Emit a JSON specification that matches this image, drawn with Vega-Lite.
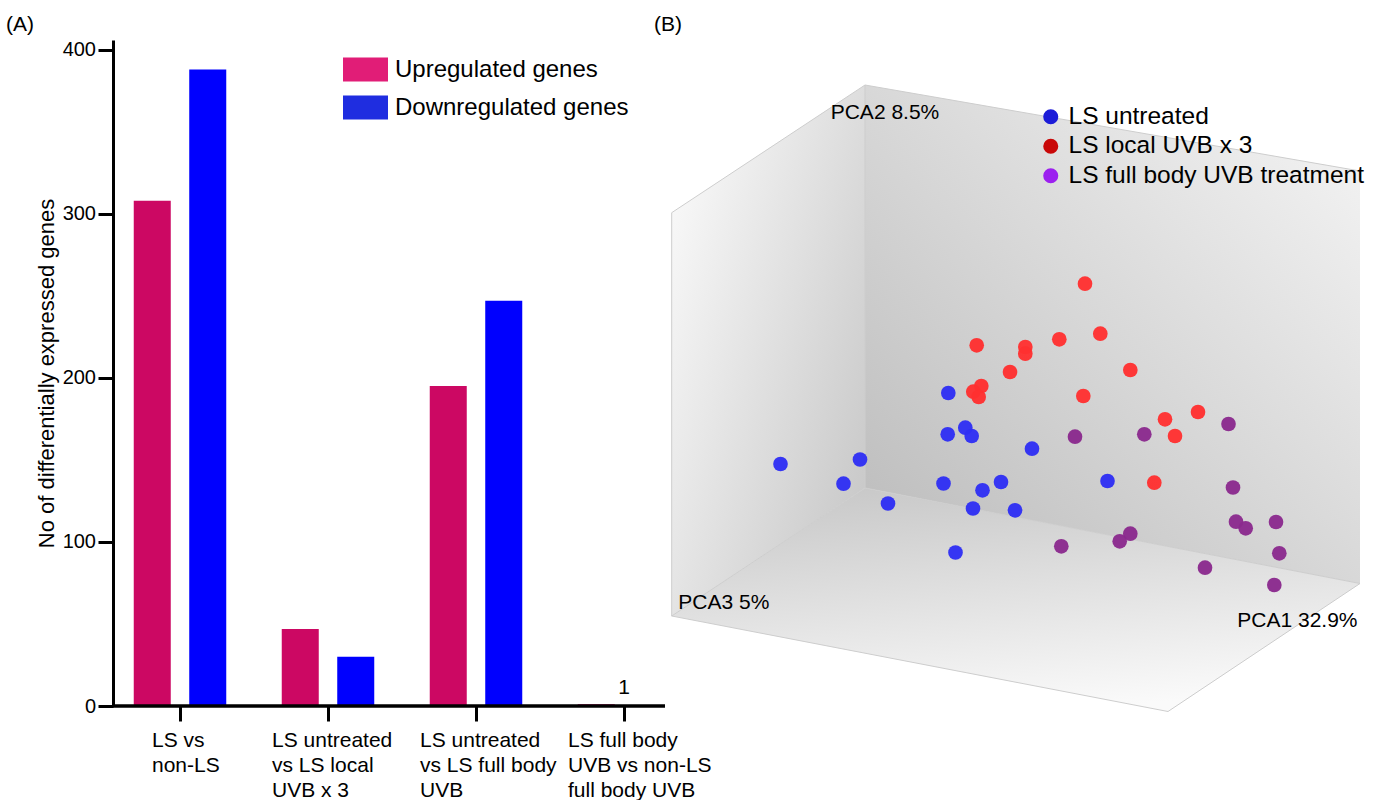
{
  "$schema": "https://vega.github.io/schema/vega-lite/v6.json",
  "padding": {"left": 6, "top": 13, "right": 0, "bottom": 0},
  "bounds": "flush",
  "spacing": 2,
  "config": {
    "font": "Liberation Sans",
    "view": {"stroke": null},
    "axis": {"labelFont": "Liberation Sans", "titleFont": "Liberation Sans"},
    "legend": {"labelFont": "Liberation Sans"},
    "title": {"font": "Liberation Sans", "fontSize": 21, "fontWeight": "normal", "color": "black"},
    "text": {"font": "Liberation Sans", "color": "black"}
  },
  "datasets": {
    "bars": [
      {"comparison": "LS vs|non-LS", "regulation": "Upregulated genes", "count": 308},
      {"comparison": "LS vs|non-LS", "regulation": "Downregulated genes", "count": 388},
      {"comparison": "LS untreated|vs LS local|UVB x 3", "regulation": "Upregulated genes", "count": 47},
      {"comparison": "LS untreated|vs LS local|UVB x 3", "regulation": "Downregulated genes", "count": 30},
      {"comparison": "LS untreated|vs LS full body|UVB", "regulation": "Upregulated genes", "count": 195},
      {"comparison": "LS untreated|vs LS full body|UVB", "regulation": "Downregulated genes", "count": 247},
      {"comparison": "LS full body|UVB vs non-LS|full body UVB", "regulation": "Upregulated genes", "count": 1},
      {"comparison": "LS full body|UVB vs non-LS|full body UVB", "regulation": "Downregulated genes", "count": 0}
    ],
    "faces": [
      {"face": "left", "sx": 671.7, "top": 211.7, "bottom": 615},
      {"face": "left", "sx": 865, "top": 84, "bottom": 487},
      {"face": "back", "sx": 865, "top": 84, "bottom": 487},
      {"face": "back", "sx": 1360, "top": 170, "bottom": 582.5},
      {"face": "floor", "sx": 671.7, "top": 615, "bottom": 615},
      {"face": "floor", "sx": 865, "top": 487, "bottom": 652.2},
      {"face": "floor", "sx": 1168, "top": 545.5, "bottom": 710.5},
      {"face": "floor", "sx": 1360, "top": 582.5, "bottom": 582.5}
    ],
    "edges": [
      {"edge": "e1", "sx": 671.7, "sy": 211.7}, {"edge": "e1", "sx": 865, "sy": 84},
      {"edge": "e2", "sx": 865, "sy": 84}, {"edge": "e2", "sx": 1360, "sy": 170},
      {"edge": "e3", "sx": 865, "sy": 84}, {"edge": "e3", "sx": 865, "sy": 487},
      {"edge": "e4", "sx": 671.7, "sy": 615}, {"edge": "e4", "sx": 865, "sy": 487},
      {"edge": "e5", "sx": 865, "sy": 487}, {"edge": "e5", "sx": 1360, "sy": 582.5},
      {"edge": "e6", "sx": 671.7, "sy": 615}, {"edge": "e6", "sx": 1168, "sy": 710.5},
      {"edge": "e7", "sx": 1168, "sy": 710.5}, {"edge": "e7", "sx": 1360, "sy": 582.5},
      {"edge": "e8", "sx": 671.7, "sy": 211.7}, {"edge": "e8", "sx": 671.7, "sy": 615}
    ],
    "pca": [
      {"group": "LS untreated", "sx": 780.5, "sy": 463},
      {"group": "LS untreated", "sx": 860, "sy": 458.5},
      {"group": "LS untreated", "sx": 843.5, "sy": 482.7},
      {"group": "LS untreated", "sx": 888, "sy": 502.5},
      {"group": "LS untreated", "sx": 948.3, "sy": 392},
      {"group": "LS untreated", "sx": 947.7, "sy": 433.3},
      {"group": "LS untreated", "sx": 965.3, "sy": 426.7},
      {"group": "LS untreated", "sx": 971.7, "sy": 435},
      {"group": "LS untreated", "sx": 1032, "sy": 447.7},
      {"group": "LS untreated", "sx": 943.5, "sy": 482.5},
      {"group": "LS untreated", "sx": 982.5, "sy": 489.3},
      {"group": "LS untreated", "sx": 1001, "sy": 481},
      {"group": "LS untreated", "sx": 973, "sy": 507.5},
      {"group": "LS untreated", "sx": 1015, "sy": 509.3},
      {"group": "LS untreated", "sx": 955.5, "sy": 551.5},
      {"group": "LS untreated", "sx": 1107.5, "sy": 480},
      {"group": "LS local UVB x 3", "sx": 1085, "sy": 282.7},
      {"group": "LS local UVB x 3", "sx": 976.7, "sy": 344.3},
      {"group": "LS local UVB x 3", "sx": 1025.3, "sy": 346},
      {"group": "LS local UVB x 3", "sx": 1025.3, "sy": 352.7},
      {"group": "LS local UVB x 3", "sx": 1059.3, "sy": 338.3},
      {"group": "LS local UVB x 3", "sx": 1100.3, "sy": 332.7},
      {"group": "LS local UVB x 3", "sx": 1010, "sy": 371},
      {"group": "LS local UVB x 3", "sx": 981.3, "sy": 385},
      {"group": "LS local UVB x 3", "sx": 973.3, "sy": 390.7},
      {"group": "LS local UVB x 3", "sx": 978.7, "sy": 396},
      {"group": "LS local UVB x 3", "sx": 1083.3, "sy": 395},
      {"group": "LS local UVB x 3", "sx": 1130.3, "sy": 369},
      {"group": "LS local UVB x 3", "sx": 1165, "sy": 418.3},
      {"group": "LS local UVB x 3", "sx": 1198, "sy": 411},
      {"group": "LS local UVB x 3", "sx": 1175, "sy": 435},
      {"group": "LS local UVB x 3", "sx": 1154.3, "sy": 481.7},
      {"group": "LS full body UVB treatment", "sx": 1075, "sy": 435.7},
      {"group": "LS full body UVB treatment", "sx": 1144.3, "sy": 433.3},
      {"group": "LS full body UVB treatment", "sx": 1228.5, "sy": 423},
      {"group": "LS full body UVB treatment", "sx": 1233, "sy": 486.5},
      {"group": "LS full body UVB treatment", "sx": 1236, "sy": 520.7},
      {"group": "LS full body UVB treatment", "sx": 1245.7, "sy": 527.3},
      {"group": "LS full body UVB treatment", "sx": 1276, "sy": 521},
      {"group": "LS full body UVB treatment", "sx": 1061.3, "sy": 545.3},
      {"group": "LS full body UVB treatment", "sx": 1130.3, "sy": 532.7},
      {"group": "LS full body UVB treatment", "sx": 1119.7, "sy": 540.3},
      {"group": "LS full body UVB treatment", "sx": 1205, "sy": 566.7},
      {"group": "LS full body UVB treatment", "sx": 1279.3, "sy": 552.3},
      {"group": "LS full body UVB treatment", "sx": 1274.3, "sy": 584}
    ],
    "axislabels": [
      {"label": "PCA2 8.5%", "sx": 830.7, "sy": 118.3},
      {"label": "PCA3 5%", "sx": 678.3, "sy": 608.3},
      {"label": "PCA1 32.9%", "sx": 1237.3, "sy": 626}
    ]
  },
  "hconcat": [
    {
      "width": 592,
      "height": 666,
      "title": {"text": "(A)", "anchor": "start", "frame": "group", "dx": -100, "offset": 5},
      "resolve": {"scale": {"color": "independent"}, "legend": {"color": "independent"}},
      "layer": [
        {
          "data": {"name": "bars"},
          "mark": {"type": "bar"},
          "encoding": {
            "x": {
              "field": "comparison", "type": "nominal", "sort": null,
              "scale": {"paddingInner": 0, "paddingOuter": 0},
              "axis": {
                "title": null, "labelAngle": 0, "labelExpr": "split(datum.label, '|')",
                "labelAlign": "left", "labelBaseline": "top", "labelFontSize": 21,
                "labelLineHeight": 25, "labelPadding": 8, "labelOverlap": false, "labelBound": false,
                "labelLimit": 0, "labelColor": "black",
                "labelOffset": {"condition": {"test": "datum.value === 'LS vs|non-LS'", "value": -28}, "value": -56},
                "tickSize": 15, "tickWidth": 3, "tickColor": "black", "domain": false
              }
            },
            "xOffset": {
              "field": "regulation", "type": "nominal",
              "sort": ["Upregulated genes", "Downregulated genes"],
              "scale": {"paddingInner": 0.333, "paddingOuter": 0.5}
            },
            "y": {
              "field": "count", "type": "quantitative",
              "scale": {"domain": [0, 406], "nice": false},
              "axis": {
                "title": "No of differentially expressed genes", "values": [0, 100, 200, 300, 400],
                "offset": -7, "grid": false, "domainWidth": 3, "domainColor": "black",
                "tickWidth": 3, "tickSize": 15, "tickColor": "black",
                "labelFontSize": 20, "labelPadding": 2.5, "labelColor": "black",
                "titleFontSize": 22, "titleFontWeight": "normal", "titlePadding": 4, "titleColor": "black"
              }
            },
            "color": {
              "field": "regulation", "type": "nominal",
              "scale": {"domain": ["Upregulated genes", "Downregulated genes"], "range": ["#cc0863", "#0000fe"]},
              "legend": null
            }
          }
        },
        {
          "data": {"name": "bars"},
          "transform": [{"filter": "false"}],
          "mark": {"type": "bar"},
          "encoding": {
            "x": {"field": "comparison", "type": "nominal", "sort": null},
            "y": {"field": "count", "type": "quantitative"},
            "color": {
              "field": "regulation", "type": "nominal",
              "scale": {"domain": ["Upregulated genes", "Downregulated genes"], "range": ["#e11d77", "#1f2de0"]},
              "legend": {
                "orient": "none", "legendX": 237, "legendY": 7, "title": null,
                "symbolType": "M-1,-0.5333H1V0.5333H-1Z", "symbolSize": 2025, "symbolStrokeWidth": 0, "symbolOpacity": 1,
                "labelFontSize": 24, "labelOffset": 7, "rowPadding": 3, "padding": 0,
                "labelLimit": 0, "labelColor": "black"
              }
            }
          }
        },
        {
          "data": {"name": "bars"},
          "transform": [{"filter": "datum.count == 1"}],
          "mark": {"type": "text", "fontSize": 21, "baseline": "alphabetic", "dy": -10},
          "encoding": {
            "x": {"field": "comparison", "type": "nominal", "sort": null},
            "y": {"field": "count", "type": "quantitative"},
            "text": {"field": "count", "type": "quantitative"}
          }
        },
        {
          "data": {"values": [{}]},
          "mark": {"type": "rule", "color": "black", "strokeWidth": 3.5},
          "encoding": {
            "x": {"datum": "LS vs|non-LS", "bandPosition": 0.047},
            "x2": {"datum": "LS full body|UVB vs non-LS|full body UVB", "bandPosition": 0.777},
            "y": {"datum": 0}
          }
        }
      ]
    },
    {
      "width": 679,
      "height": 666,
      "title": {"text": "(B)", "anchor": "start", "frame": "group", "dx": -46, "offset": 5},
      "resolve": {"scale": {"color": "independent"}, "legend": {"color": "independent"}},
      "layer": [
        {
          "data": {"name": "faces"},
          "transform": [{"filter": "datum.face == 'left'"}],
          "mark": {"type": "area", "orient": "vertical", "color": {"gradient": "linear", "x1": 0, "y1": 0.1, "x2": 1, "y2": 0.9, "stops": [{"offset": 0, "color": "#fbfbfb"}, {"offset": 1, "color": "#c6c6c6"}]}},
          "encoding": {
            "x": {"field": "sx", "type": "quantitative", "scale": {"domain": [700, 1379], "nice": false, "zero": false}, "axis": null},
            "y": {"field": "top", "type": "quantitative", "scale": {"domain": [39, 705], "reverse": true, "nice": false, "zero": false}, "axis": null},
            "y2": {"field": "bottom"}
          }
        },
        {
          "data": {"name": "faces"},
          "transform": [{"filter": "datum.face == 'back'"}],
          "mark": {"type": "area", "orient": "vertical", "color": {"gradient": "linear", "x1": 0, "y1": 1, "x2": 1, "y2": 0, "stops": [{"offset": 0, "color": "#bababa"}, {"offset": 1, "color": "#f6f6f6"}]}},
          "encoding": {
            "x": {"field": "sx", "type": "quantitative", "axis": null},
            "y": {"field": "top", "type": "quantitative", "axis": null},
            "y2": {"field": "bottom"}
          }
        },
        {
          "data": {"name": "faces"},
          "transform": [{"filter": "datum.face == 'floor'"}],
          "mark": {"type": "area", "orient": "vertical", "color": {"gradient": "linear", "x1": 0.28, "y1": 0, "x2": 0.55, "y2": 1, "stops": [{"offset": 0, "color": "#c9c9c9"}, {"offset": 1, "color": "#fafafa"}]}},
          "encoding": {
            "x": {"field": "sx", "type": "quantitative", "axis": null},
            "y": {"field": "top", "type": "quantitative", "axis": null},
            "y2": {"field": "bottom"}
          }
        },
        {
          "data": {"name": "edges"},
          "mark": {"type": "line", "color": "#cdcdcd", "strokeWidth": 1},
          "encoding": {
            "x": {"field": "sx", "type": "quantitative", "axis": null},
            "y": {"field": "sy", "type": "quantitative", "axis": null},
            "detail": {"field": "edge", "type": "nominal"}
          }
        },
        {
          "data": {"name": "pca"},
          "mark": {"type": "circle", "size": 215, "opacity": 0.96},
          "encoding": {
            "x": {"field": "sx", "type": "quantitative", "axis": null},
            "y": {"field": "sy", "type": "quantitative", "axis": null},
            "color": {
              "field": "group", "type": "nominal",
              "scale": {"domain": ["LS untreated", "LS local UVB x 3", "LS full body UVB treatment"], "range": ["#2f2ff4", "#ff3030", "#8a2a8e"]},
              "legend": null
            }
          }
        },
        {
          "data": {"name": "pca"},
          "transform": [{"filter": "false"}],
          "mark": {"type": "circle"},
          "encoding": {
            "x": {"field": "sx", "type": "quantitative", "axis": null},
            "y": {"field": "sy", "type": "quantitative", "axis": null},
            "color": {
              "field": "group", "type": "nominal",
              "scale": {"domain": ["LS untreated", "LS local UVB x 3", "LS full body UVB treatment"], "range": ["#1c1cd8", "#c90808", "#9c20ef"]},
              "legend": {
                "orient": "none", "legendX": 338.5, "legendY": 64.5, "title": null,
                "symbolType": "circle", "symbolSize": 227, "symbolStrokeWidth": 0, "symbolOpacity": 1,
                "labelFontSize": 24.5, "labelOffset": 5.5, "rowPadding": 4.5, "padding": 0,
                "labelLimit": 0, "labelColor": "black"
              }
            }
          }
        },
        {
          "data": {"name": "axislabels"},
          "mark": {"type": "text", "align": "left", "baseline": "alphabetic", "fontSize": 21},
          "encoding": {
            "x": {"field": "sx", "type": "quantitative", "axis": null},
            "y": {"field": "sy", "type": "quantitative", "axis": null},
            "text": {"field": "label", "type": "nominal"}
          }
        }
      ]
    }
  ],
  "resolve": {"scale": {"color": "independent"}, "legend": {"color": "independent"}}
}
